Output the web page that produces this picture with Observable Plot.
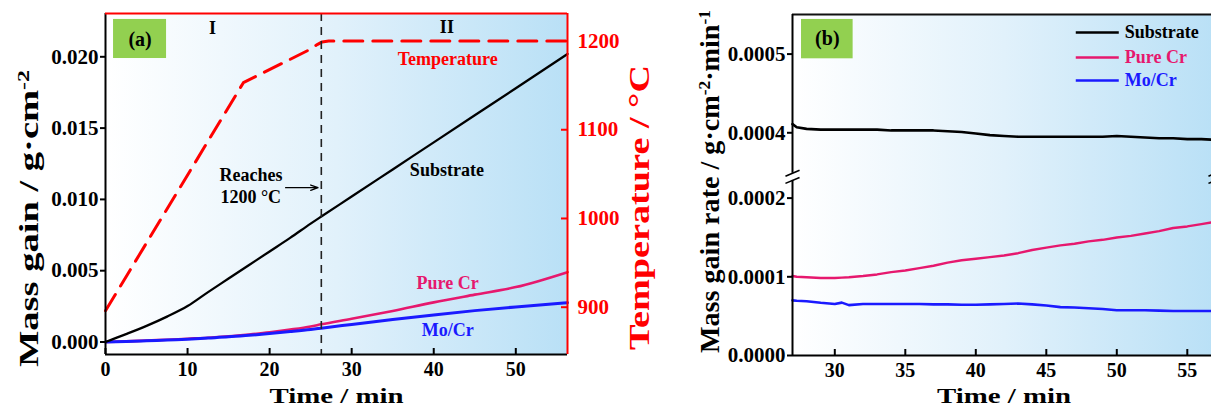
<!DOCTYPE html>
<html>
<head>
<meta charset="utf-8">
<script src="https://cdn.jsdelivr.net/npm/d3@7"></script>
<script src="https://cdn.jsdelivr.net/npm/@observablehq/plot@0.6"></script>
<style>
  html, body { margin: 0; padding: 0; background: #fff; overflow: hidden; }
  #wrap { position: relative; width: 1211px; height: 407px; overflow: hidden; background: #fff; }
  #wrap svg { position: absolute; top: 0; }
</style>
</head>
<body>
<div id="wrap"></div>
<script>
// ---------------- DATA ----------------
// Panel (a): mass gain vs time
const timeA      = [0, 2.5, 5, 7.5, 10, 12.5, 15, 17.5, 20, 22.5, 25, 26.3, 30, 35, 40, 45, 50, 56.3];
const substrateA = [0, 0.00055, 0.00113, 0.00178, 0.00252, 0.0035, 0.00445, 0.0054, 0.00635, 0.0073, 0.0083, 0.0088, 0.0102, 0.0121, 0.0140, 0.0159, 0.0178, 0.0202];
const pureCrA    = [0, 0.00004, 0.0001, 0.00016, 0.00023, 0.0003, 0.0004, 0.00053, 0.00068, 0.00087, 0.00109, 0.00124, 0.00163, 0.00218, 0.00278, 0.00332, 0.00385, 0.0049];
const moCrA      = [0, 0.00003, 0.00008, 0.00014, 0.0002, 0.00028, 0.00036, 0.00047, 0.00059, 0.00073, 0.00088, 0.00097, 0.00123, 0.00158, 0.0019, 0.0022, 0.00246, 0.00275];
// Panel (a): furnace temperature
const timeT = [0, 16.8, 24.8, 25.8, 26.4, 27.2, 56.3];
const tempT = [896, 1153, 1190, 1196, 1199, 1200, 1200];
const reachTime = 26.3;

// Panel (b): mass gain rate vs time
const timeB      = [27, 27.3, 28, 29, 30, 30.5, 31, 32, 33, 34, 35, 36, 37, 38, 39, 40, 41, 42, 43, 44, 45, 46, 47, 48, 49, 50, 51, 52, 53, 54, 55, 56, 57];
const substrateB = [0.000411, 0.000407, 0.000405, 0.000404, 0.000404, 0.000404, 0.000404, 0.000404, 0.000404, 0.000403, 0.000403, 0.000403, 0.000403, 0.000402, 0.000401, 0.000399, 0.000397, 0.000396, 0.000395, 0.000395, 0.000395, 0.000395, 0.000395, 0.000395, 0.000395, 0.000396, 0.000395, 0.000394, 0.000393, 0.000393, 0.000392, 0.000392, 0.000391];
const pureCrB    = [0.000101, 0.0001, 0.0000995, 0.0000985, 0.0000985, 0.000099, 0.0000995, 0.000101, 0.000103, 0.000106, 0.000108, 0.000111, 0.000114, 0.000118, 0.000121, 0.000123, 0.000125, 0.000127, 0.00013, 0.000134, 0.000137, 0.00014, 0.000142, 0.000145, 0.000147, 0.00015, 0.000152, 0.000155, 0.000158, 0.000162, 0.000164, 0.000167, 0.00017];
const moCrB      = [0.00007, 0.0000695, 0.000069, 0.000067, 0.0000655, 0.0000672, 0.000064, 0.0000655, 0.0000655, 0.0000655, 0.0000655, 0.0000655, 0.000065, 0.000065, 0.0000645, 0.0000645, 0.000065, 0.0000655, 0.000066, 0.000065, 0.0000635, 0.0000615, 0.000061, 0.00006, 0.000059, 0.0000575, 0.0000575, 0.0000575, 0.000057, 0.0000565, 0.0000565, 0.0000565, 0.0000565];

const seriesNames  = ["Substrate", "Pure Cr", "Mo/Cr"];
const seriesColors = ["#000000", "#e6186e", "#1a1aff"];

// Tick labels
const xTicksA = [0, 10, 20, 30, 40, 50];
const yTicksA = [0, 0.005, 0.010, 0.015, 0.020];
const tTicksA = [900, 1000, 1100, 1200];
const xTicksB = [30, 35, 40, 45, 50, 55];
const yTicksB = [0, 0.0001, 0.0002, 0.0004, 0.0005];

// ---------------- SCALES / HELPERS ----------------
const FONT = "'Liberation Serif', 'Times New Roman', serif";
const xDomA = [0, 56.3];
const yDomA = [-0.000877, 0.023037];
const tDomA = [846.7, 1231];
const t2y = T => yDomA[0] + (T - tDomA[0]) / (tDomA[1] - tDomA[0]) * (yDomA[1] - yDomA[0]);
const y2t = y => tDomA[0] + (y - yDomA[0]) / (yDomA[1] - yDomA[0]) * (tDomA[1] - tDomA[0]);

// broken axis for panel (b)
const brkShift = 0.000117, brkD = 0.000227;
const toD = v => v > 0.00029 ? v - brkShift : v;
const fromD = d => d > brkD ? d + brkShift : d;
const xDomB = [27, 57];
const yDomB = [0, 0.0004333];

const idxA = d3.range(timeA.length);
const idxT = d3.range(timeT.length);
const idxB = d3.range(timeB.length);

function addGradient(svg, id) {
  const defs = d3.select(svg).insert("defs", ":first-child");
  const g = defs.append("linearGradient").attr("id", id)
    .attr("x1", "0").attr("x2", "1").attr("y1", "0").attr("y2", "0");
  g.append("stop").attr("offset", "0").attr("stop-color", "#ffffff");
  g.append("stop").attr("offset", "0.5").attr("stop-color", "#e1f1fb");
  g.append("stop").attr("offset", "1").attr("stop-color", "#b9e0f6");
}

// rebuild labels containing ^{..} superscripts; apply stretch lengths
function fixText(svg, lengths) {
  d3.select(svg).selectAll("text").each(function () {
    const raw = this.textContent;
    const el = d3.select(this);
    if (raw.includes("^{")) {
      el.text(null);
      const parts = raw.split(/(\^\{[^}]*\})/);
      for (const p of parts) {
        if (!p) continue;
        if (p.startsWith("^{")) {
          el.append("tspan").attr("baseline-shift", "super").attr("font-size", "62%").text(p.slice(2, -1));
        } else {
          el.append("tspan").text(p);
        }
      }
    }
    if (lengths[raw]) {
      el.attr("textLength", lengths[raw]).attr("lengthAdjust", "spacingAndGlyphs");
    }
  });
}

const wrap = document.getElementById("wrap");

// ---------------- PANEL (a) ----------------
const WA = 660, H = 407;
const mA = {left: 105, right: 93, top: 13, bottom: 53};
const plotWA = WA - mA.left - mA.right;
const plotHA = H - mA.top - mA.bottom;

const annA = [
  {t: 13.05, v: 0.0220, text: "I", color: "#000", weight: "normal"},
  {t: 41.6, v: 0.02205, text: "II", color: "#000", weight: "normal"},
  {t: 41.7, v: 0.01981, text: "Temperature", color: "#ff0000", weight: "bold"},
  {t: 41.6, v: 0.01203, text: "Substrate", color: "#000", weight: "bold"},
  {t: 17.74, v: 0.01168, text: "Reaches", color: "#000", weight: "bold"},
  {t: 17.7, v: 0.01013, text: "1200 °C", color: "#000", weight: "bold"},
  {t: 41.7, v: 0.0041, text: "Pure Cr", color: seriesColors[1], weight: "bold"},
  {t: 41.7, v: 0.00081, text: "Mo/Cr", color: seriesColors[2], weight: "bold"}
];
const arrowA = {t1: 21.95, t2: 25.9, v: 0.01082};
const boxA = {t1: 0.98, t2: 7.44, v1: 0.01988, v2: 0.02262, tc: 4.21, vc: 0.02122, text: "(a)"};

const svgA = Plot.plot({
  width: WA, height: H,
  marginLeft: mA.left, marginRight: mA.right, marginTop: mA.top, marginBottom: mA.bottom,
  style: {fontFamily: FONT, fontSize: "21px", fontWeight: "bold", background: "transparent", color: "#000", maxWidth: "none"},
  x: {domain: xDomA, axis: null},
  y: {domain: yDomA, axis: null},
  marks: [
    Plot.frame({fill: "url(#gradA)", stroke: "none"}),
    Plot.rect([boxA], {x1: "t1", x2: "t2", y1: "v1", y2: "v2", fill: "#92d050"}),
    Plot.text([boxA], {x: "tc", y: "vc", text: "text", fontSize: 20, fontWeight: "bold", lineAnchor: "middle"}),
    Plot.line(idxA, {x: i => timeA[i], y: i => pureCrA[i], stroke: seriesColors[1], strokeWidth: 2.6, curve: "monotone-x"}),
    Plot.line(idxA, {x: i => timeA[i], y: i => moCrA[i], stroke: seriesColors[2], strokeWidth: 3, curve: "monotone-x"}),
    Plot.line(idxA, {x: i => timeA[i], y: i => substrateA[i], stroke: seriesColors[0], strokeWidth: 2.3, curve: "monotone-x"}),
    Plot.line(idxT, {x: i => timeT[i], y: i => t2y(tempT[i]), stroke: "#ff0000", strokeWidth: 3, strokeDasharray: "19,10"}),
    Plot.ruleX([reachTime], {stroke: "#222", strokeWidth: 1.6, strokeDasharray: "8,6"}),
    Plot.arrow([arrowA], {x1: "t1", x2: "t2", y1: "v", y2: "v", stroke: "#000", strokeWidth: 1.3, headLength: 9, headAngle: 40}),
    Plot.text(annA, {x: "t", y: "v", text: "text", fill: "color", fontWeight: d => d.weight, fontSize: 18, lineAnchor: "middle"}),
    // frame lines
    Plot.ruleX([xDomA[0]], {stroke: "#000", strokeWidth: 2}),
    Plot.ruleY([yDomA[0]], {stroke: "#000", strokeWidth: 2}),
    Plot.ruleY([yDomA[1]], {stroke: "#ff0000", strokeWidth: 2}),
    Plot.ruleX([xDomA[1]], {stroke: "#ff0000", strokeWidth: 2}),
    // axes
    Plot.axisY({ticks: yTicksA, tickSize: 5, tickPadding: 2, strokeWidth: 2, tickFormat: d3.format(".3f"), label: null}),
    Plot.axisX({ticks: xTicksA, tickSize: 0, tickPadding: 7, fontSize: 20, tickFormat: d => String(d), label: null}),
    Plot.ruleX(xTicksA, {insetTop: plotHA - 6, stroke: "#000", strokeWidth: 2}),
    Plot.axisY({anchor: "right", ticks: tTicksA.map(t2y), tickSize: 0, tickPadding: 10, color: "#ff0000", tickFormat: y => String(Math.round(y2t(y))), label: null}),
    Plot.ruleY(tTicksA.map(t2y), {insetLeft: plotWA - 6, stroke: "#ff0000", strokeWidth: 2}),
    // titles
    Plot.text(["Time / min"], {frameAnchor: "bottom", dy: 48, lineAnchor: "bottom", fontSize: 22, fontWeight: "bold"}),
    Plot.text(["Mass gain / g·cm^{-2}"], {frameAnchor: "left", dx: -68, dy: 183, rotate: -90, textAnchor: "start", lineAnchor: "bottom", fontSize: 27, fontWeight: "bold"}),
    Plot.text(["Temperature / °C"], {frameAnchor: "right", dx: 81, dy: 166, rotate: -90, textAnchor: "start", lineAnchor: "bottom", fontSize: 30, fontWeight: "bold", fill: "#ff0000"})
  ]
});
addGradient(svgA, "gradA");
fixText(svgA, {"Mass gain / g·cm^{-2}": 297, "Temperature / °C": 285, "Time / min": 134});
svgA.style.left = "0px";
wrap.appendChild(svgA);

// ---------------- PANEL (b) ----------------
const WB = 565;
const mB = {left: 132, right: 10, top: 14, bottom: 52};
const plotHB = H - mB.top - mB.bottom;
const gapD = 0.0000045, slashD = 0.0000038;
const slashes = [];
for (const xs of xDomB) for (const o of [-1, 1]) {
  slashes.push({x1: xs - 0.5, x2: xs + 0.5, y1: brkD + o * gapD - slashD, y2: brkD + o * gapD + slashD});
}
const boxB = {t1: 27.64, t2: 31.3, v1: 0.000377, v2: 0.000427, tc: 29.47, vc: 0.000403, text: "(b)"};
const legendPos = {t1: 47.09, t2: 50.14, tText: 50.57, v: [0.0004104, 0.0003786, 0.0003494]};
const legendRows = seriesNames.map((name, i) => ({name, color: seriesColors[i], v: legendPos.v[i]}));

const svgB = Plot.plot({
  width: WB, height: H,
  marginLeft: mB.left, marginRight: mB.right, marginTop: mB.top, marginBottom: mB.bottom,
  style: {fontFamily: FONT, fontSize: "21px", fontWeight: "bold", background: "transparent", color: "#000", maxWidth: "none"},
  x: {domain: xDomB, axis: null},
  y: {domain: yDomB, axis: null},
  marks: [
    Plot.frame({fill: "url(#gradB)", stroke: "none"}),
    Plot.rect([boxB], {x1: "t1", x2: "t2", y1: "v1", y2: "v2", fill: "#92d050"}),
    Plot.text([boxB], {x: "tc", y: "vc", text: "text", fontSize: 20, fontWeight: "bold", lineAnchor: "middle"}),
    Plot.line(idxB, {x: i => timeB[i], y: i => toD(pureCrB[i]), stroke: seriesColors[1], strokeWidth: 2.4}),
    Plot.line(idxB, {x: i => timeB[i], y: i => toD(moCrB[i]), stroke: seriesColors[2], strokeWidth: 2.6}),
    Plot.line(idxB, {x: i => timeB[i], y: i => toD(substrateB[i]), stroke: seriesColors[0], strokeWidth: 2.6}),
    // legend
    Plot.link(legendRows, {x1: () => legendPos.t1, x2: () => legendPos.t2, y1: "v", y2: "v", stroke: "color", strokeWidth: 2.5}),
    Plot.text(legendRows, {x: () => legendPos.tText, y: "v", text: "name", fill: "color", textAnchor: "start", lineAnchor: "middle", fontSize: 18, fontWeight: "bold"}),
    // frame lines with break
    Plot.ruleY([yDomB[1]], {stroke: "#111", strokeWidth: 2}),
    Plot.ruleY([0], {stroke: "#000", strokeWidth: 2}),
    Plot.ruleX([xDomB[0]], {y1: 0, y2: brkD - gapD, stroke: "#000", strokeWidth: 2}),
    Plot.ruleX([xDomB[0]], {y1: brkD + gapD, y2: yDomB[1], stroke: "#000", strokeWidth: 2}),
    Plot.link(slashes, {x1: "x1", x2: "x2", y1: "y1", y2: "y2", stroke: "#000", strokeWidth: 1.6}),
    // axes
    Plot.axisY({ticks: yTicksB.map(toD), tickSize: 5, tickPadding: 2, strokeWidth: 2, tickFormat: d => fromD(d).toFixed(4), label: null}),
    Plot.axisX({ticks: xTicksB, tickSize: 0, tickPadding: 7, fontSize: 20, tickFormat: d => String(d), label: null}),
    Plot.ruleX(xTicksB, {insetTop: plotHB - 6, stroke: "#000", strokeWidth: 2}),
    // titles
    Plot.text(["Time / min"], {frameAnchor: "bottom", dy: 47, lineAnchor: "bottom", fontSize: 22, fontWeight: "bold"}),
    Plot.text(["Mass gain rate / g·cm^{-2}·min^{-1}"], {frameAnchor: "left", dx: -74, dy: 168, rotate: -90, textAnchor: "start", lineAnchor: "bottom", fontSize: 27, fontWeight: "bold"})
  ]
});
addGradient(svgB, "gradB");
fixText(svgB, {"Mass gain rate / g·cm^{-2}·min^{-1}": 343, "Time / min": 134});
svgB.style.left = "660px";
wrap.appendChild(svgB);
</script>
</body>
</html>
